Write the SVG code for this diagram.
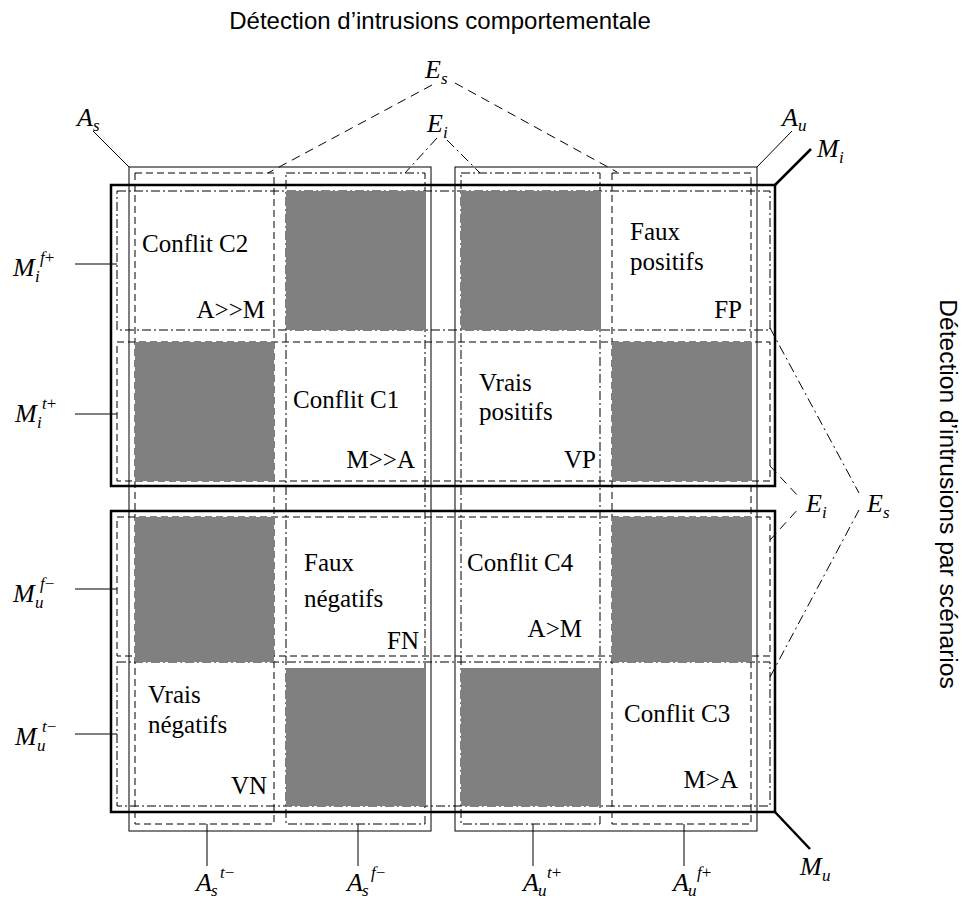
<svg xmlns="http://www.w3.org/2000/svg" width="967" height="899" viewBox="0 0 967 899">
<style>
.thin{fill:none;stroke:#000;stroke-width:1}
.thick{fill:none;stroke:#000;stroke-width:2.5}
.dash{fill:none;stroke:#000;stroke-width:1;stroke-dasharray:7 4}
.dd{fill:none;stroke:#000;stroke-width:1;stroke-dasharray:9 3 2 3}
.ldash{fill:none;stroke:#000;stroke-width:1;stroke-dasharray:9 6}
.ldd{fill:none;stroke:#000;stroke-width:1;stroke-dasharray:10 4 2 4}
.gray{fill:#808080}
.cell{font-family:"Liberation Serif","Times New Roman",serif;font-size:25px;fill:#000}
.end{text-anchor:end}
.m{font-family:"Liberation Serif","Times New Roman",serif;font-style:italic;font-size:26px;fill:#000}
.s{font-size:17px}
.u{font-style:normal}
.sans{font-family:"Liberation Sans",Arial,sans-serif;font-size:24px;fill:#000}
</style>
<rect width="967" height="899" fill="#fff"/>
<g id="frames">
<rect id="A_s" class="thin" x="129" y="167" width="302" height="664"/>
<rect id="A_u" class="thin" x="455" y="167" width="302" height="664"/>
<rect id="M_i" class="thick" x="111" y="185" width="664" height="301"/>
<rect id="M_u" class="thick" x="111" y="511" width="664" height="301"/>
</g>
<g id="regions">
<rect id="Mi_fp" class="dd" x="117" y="191" width="653" height="139"/>
<rect id="Mi_tp" class="dash" x="117" y="342" width="653" height="139"/>
<rect id="Mu_fm" class="dash" x="117" y="517" width="653" height="139"/>
<rect id="Mu_tm" class="dd" x="117" y="662" width="653" height="144"/>
<rect id="As_tm" class="dash" x="135" y="173" width="139" height="651"/>
<rect id="As_fm" class="dd" x="286" y="173" width="139" height="651"/>
<rect id="Au_tp" class="dd" x="461" y="173" width="139" height="651"/>
<rect id="Au_fp" class="dash" x="612" y="173" width="139" height="651"/>
</g>
<g id="cells">
<g id="c11"><text class="cell" x="142" y="252">Conflit C2</text><text class="cell end" x="265" y="318">A&gt;&gt;M</text></g>
<g id="c12"><rect class="gray" x="286" y="191" width="140" height="139"/></g>
<g id="c13"><rect class="gray" x="461" y="191" width="140" height="139"/></g>
<g id="c14"><text class="cell" x="630" y="240">Faux</text><text class="cell" x="630" y="270">positifs</text><text class="cell end" x="742" y="318">FP</text></g>
<g id="c21"><rect class="gray" x="135" y="342" width="139" height="139"/></g>
<g id="c22"><text class="cell" x="293" y="408">Conflit C1</text><text class="cell end" x="415" y="468">M&gt;&gt;A</text></g>
<g id="c23"><text class="cell" x="479" y="391">Vrais</text><text class="cell" x="479" y="420">positifs</text><text class="cell end" x="596" y="468">VP</text></g>
<g id="c24"><rect class="gray" x="612" y="342" width="140" height="139"/></g>
<g id="c31"><rect class="gray" x="135" y="517" width="139" height="145"/></g>
<g id="c32"><text class="cell" x="304" y="571">Faux</text><text class="cell" x="304" y="607">négatifs</text><text class="cell end" x="419" y="649">FN</text></g>
<g id="c33"><text class="cell" x="467" y="571">Conflit C4</text><text class="cell end" x="582" y="637">A&gt;M</text></g>
<g id="c34"><rect class="gray" x="612" y="517" width="140" height="145"/></g>
<g id="c41"><text class="cell" x="148" y="703">Vrais</text><text class="cell" x="148" y="733">négatifs</text><text class="cell end" x="267" y="794">VN</text></g>
<g id="c42"><rect class="gray" x="286" y="668" width="140" height="138"/></g>
<g id="c43"><rect class="gray" x="461" y="668" width="140" height="138"/></g>
<g id="c44"><text class="cell" x="624" y="722">Conflit C3</text><text class="cell end" x="738" y="788">M&gt;A</text></g>
</g>
<g id="connectors">
<line class="thin" x1="93" y1="131" x2="129" y2="167"/>
<line class="thin" x1="757" y1="167" x2="792" y2="131"/>
<line class="thick" x1="775" y1="185" x2="811" y2="149"/>
<line class="thick" x1="775" y1="812" x2="810" y2="849"/>
<line class="thin" x1="75" y1="264" x2="117" y2="264"/>
<line class="thin" x1="75" y1="414" x2="117" y2="414"/>
<line class="thin" x1="75" y1="589" x2="117" y2="589"/>
<line class="thin" x1="75" y1="734" x2="117" y2="734"/>
<line class="thin" x1="207" y1="824" x2="207" y2="866"/>
<line class="thin" x1="358" y1="824" x2="358" y2="866"/>
<line class="thin" x1="533" y1="824" x2="533" y2="866"/>
<line class="thin" x1="684" y1="824" x2="684" y2="866"/>
<line class="ldash" x1="432" y1="85" x2="268" y2="173"/>
<line class="ldash" x1="455" y1="83" x2="617" y2="172"/>
<line class="ldd" x1="437" y1="138" x2="405" y2="173"/>
<line class="ldd" x1="447" y1="140" x2="480" y2="173"/>
<line class="ldash" x1="770" y1="466" x2="799" y2="497"/>
<line class="ldash" x1="770" y1="540" x2="800" y2="507"/>
<line class="ldd" x1="770" y1="328" x2="859" y2="493"/>
<line class="ldd" x1="770" y1="677" x2="859" y2="510"/>
</g>
<g id="labels">
<text class="m" x="77" y="126">A<tspan class="s" x="93" y="131">s</tspan></text>
<text class="m" x="782" y="126">A<tspan class="s" x="798" y="131">u</tspan></text>
<text class="m" x="817" y="157">M<tspan class="s" x="839" y="163">i</tspan></text>
<text class="m" x="800" y="875">M<tspan class="s" x="822" y="881">u</tspan></text>
<text class="m" x="425" y="78">E<tspan class="s" x="441" y="84">s</tspan></text>
<text class="m" x="427" y="132">E<tspan class="s" x="443" y="138">i</tspan></text>
<text class="m" x="806" y="512">E<tspan class="s" x="822" y="518">i</tspan></text>
<text class="m" x="867" y="512">E<tspan class="s" x="883" y="518">s</tspan></text>
<text class="m" x="13" y="276">M<tspan class="s" x="35" y="282">i</tspan><tspan class="s" x="40" y="263">f<tspan class="u">+</tspan></tspan></text>
<text class="m" x="15" y="422">M<tspan class="s" x="37" y="428">i</tspan><tspan class="s" x="42" y="409">t<tspan class="u">+</tspan></tspan></text>
<text class="m" x="13" y="602">M<tspan class="s" x="35" y="608">u</tspan><tspan class="s" x="40" y="589">f<tspan class="u">−</tspan></tspan></text>
<text class="m" x="15" y="745">M<tspan class="s" x="37" y="751">u</tspan><tspan class="s" x="42" y="732">t<tspan class="u">−</tspan></tspan></text>
<text class="m" x="196" y="891">A<tspan class="s" x="211" y="896">s</tspan><tspan class="s" x="220" y="878">t<tspan class="u">−</tspan></tspan></text>
<text class="m" x="347" y="891">A<tspan class="s" x="362" y="896">s</tspan><tspan class="s" x="371" y="878">f<tspan class="u">−</tspan></tspan></text>
<text class="m" x="523" y="891">A<tspan class="s" x="538" y="896">u</tspan><tspan class="s" x="547" y="878">t<tspan class="u">+</tspan></tspan></text>
<text class="m" x="673" y="891">A<tspan class="s" x="688" y="896">u</tspan><tspan class="s" x="697" y="878">f<tspan class="u">+</tspan></tspan></text>
<text class="sans" x="440" y="29" text-anchor="middle">Détection d’intrusions comportementale</text>
<text class="sans" text-anchor="middle" transform="translate(940,494) rotate(90)" style="font-size:24.6px">Détection d’intrusions par scénarios</text>
</g>
</svg>
